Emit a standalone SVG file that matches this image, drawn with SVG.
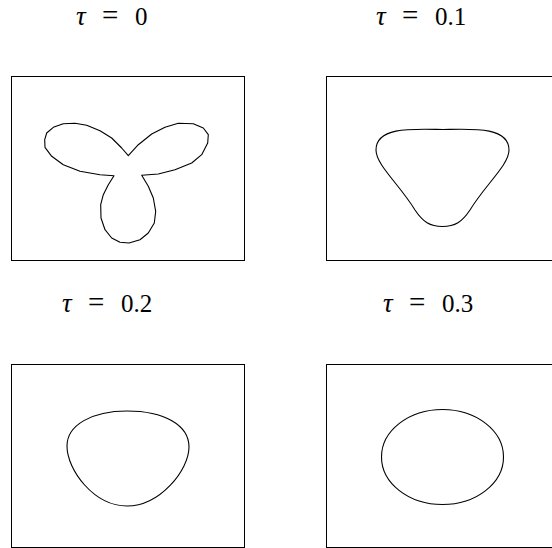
<svg xmlns="http://www.w3.org/2000/svg" width="552" height="548" viewBox="0 0 552 548">
<style>
.frame{fill:none;stroke:#000;stroke-width:1}
.curve{fill:none;stroke:#000;stroke-width:1.1;stroke-linejoin:round}
.lbl{font-family:"Liberation Serif","Times New Roman",serif;font-size:25px;fill:#000}
.tau{font-style:italic;font-size:27px}
.eq{font-size:29px}
</style>
<rect width="552" height="548" fill="#fff"/>
<g id="panel-t0">
<text class="lbl" y="25"><tspan class="tau" x="76">τ</tspan><tspan class="eq" x="102">=</tspan><tspan x="135">0</tspan></text>
<rect class="frame" x="11.5" y="76.5" width="233" height="184"/>
<polygon class="curve" points="128.3,155.7 121.7,148 111.7,138 100,130.7 86.7,125.3 75,123.3 63.3,123.7 53.3,127.3 46.7,133 44.7,139.7 45,147.3 51.7,156.3 63.3,164.7 80,171.3 100,174.7 114,175.7 108.3,184.7 103.3,194.7 100.7,204.7 101,218 105,229.7 111.7,238 120,242.3 129,243 140,239.7 148.3,233 154.3,223 155.7,211.3 153.3,198 148.3,186.3 141.7,175.3 158.3,174 175,169.7 191.7,163 201.7,154.7 207.7,143 208.3,134.7 203.3,128 193.3,123.7 178.3,123.3 165,127.3 151.7,134 138.3,144.7"/>
</g>
<g id="panel-t01">
<text class="lbl" y="25"><tspan class="tau" x="376">τ</tspan><tspan class="eq" x="402">=</tspan><tspan x="435">0.1</tspan></text>
<rect class="frame" x="326.5" y="76.5" width="233" height="184"/>
<path class="curve" d="M443,129.5 C470,129 509,126 509,150 C509,165 485,185 470,210 C462,222 455,226.5 442.5,226.5 C430,226.5 423,222 415,210 C400,185 376,165 376,150 C376,126 415,129 443,129.5 Z"/>
</g>
<g id="panel-t02">
<text class="lbl" y="312"><tspan class="tau" x="62">τ</tspan><tspan class="eq" x="88">=</tspan><tspan x="121">0.2</tspan></text>
<rect class="frame" x="11.5" y="364.5" width="233" height="183"/>
<path class="curve" d="M127,411 C164,411 189,425 189,447 C189,470 160,506 127,506 C94,506 67,470 67,446 C67,425 92,411 127,411 Z"/>
</g>
<g id="panel-t03">
<text class="lbl" y="312"><tspan class="tau" x="383">τ</tspan><tspan class="eq" x="409">=</tspan><tspan x="442">0.3</tspan></text>
<rect class="frame" x="326.5" y="364.5" width="233" height="183"/>
<ellipse class="curve" cx="442.5" cy="457" rx="61" ry="47.5"/>
</g>
</svg>
